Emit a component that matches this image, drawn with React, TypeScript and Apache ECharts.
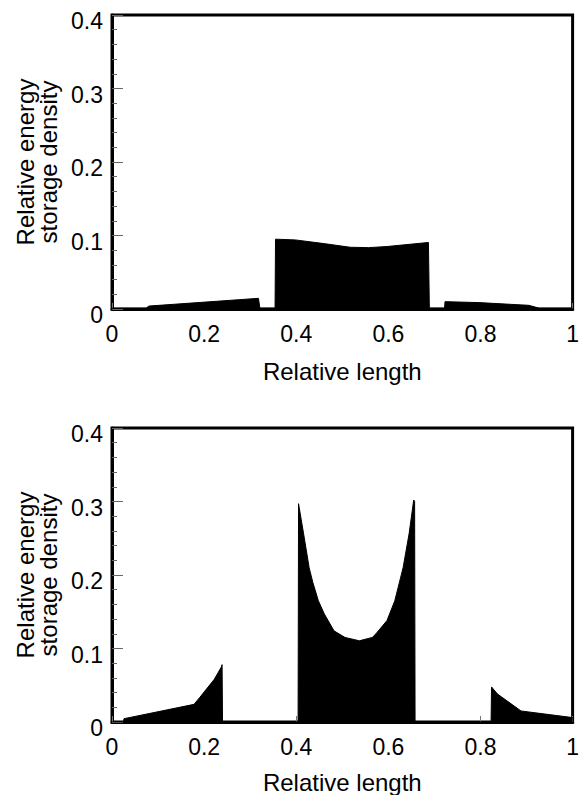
import React, { useEffect, useRef } from "react";
import * as echarts from "echarts";

// Tick labels
const xTicks = [0, 0.2, 0.4, 0.6, 0.8, 1];
const yTicks = [0, 0.1, 0.2, 0.3, 0.4];

// Upper panel: relative length vs relative energy storage density
const topX = [0, 0.074, 0.08, 0.318, 0.321, 0.354, 0.355, 0.398, 0.46, 0.517, 0.557, 0.597, 0.687, 0.689, 0.722, 0.723, 0.797, 0.905, 0.928, 1];
const topY = [0.001, 0.001, 0.004, 0.0145, 0.001, 0.001, 0.095, 0.094, 0.089, 0.084, 0.0835, 0.085, 0.0905, 0.001, 0.001, 0.010, 0.0087, 0.005, 0.001, 0.001];

// Lower panel
const botX = [0, 0.025, 0.026, 0.178, 0.19, 0.222, 0.2375, 0.239, 0.24, 0.404, 0.405, 0.416, 0.428, 0.436, 0.448, 0.461, 0.482, 0.506, 0.537, 0.565, 0.573, 0.597, 0.614, 0.632, 0.645, 0.655, 0.657, 0.658, 0.823, 0.824, 0.837, 0.888, 1.0];
const botY = [0, 0, 0.0045, 0.024, 0.033, 0.058, 0.075, 0.078, 0, 0, 0.297, 0.256, 0.21, 0.19, 0.165, 0.147, 0.124, 0.115, 0.1105, 0.115, 0.12, 0.138, 0.165, 0.21, 0.256, 0.302, 0.3, 0, 0, 0.0477, 0.038, 0.015, 0.006];

const xName = "Relative length";
const yName = "Relative energy\nstorage density";

const FONT = "'Liberation Sans', Arial, Helvetica, sans-serif";

export default function App() {
  const ref = useRef<HTMLDivElement>(null);
  useEffect(() => {
    if (!ref.current) return;
    const chart = echarts.init(ref.current, undefined, { renderer: "svg" });
    const pair = (xs: number[], ys: number[]) => xs.map((x, i) => [x, ys[i]]);
    const xAxisFor = (gridIndex: number, gap: number) => ({
      type: "value",
      gridIndex,
      min: xTicks[0],
      max: xTicks[xTicks.length - 1],
      interval: 0.2,
      name: xName,
      nameLocation: "middle",
      nameGap: gap,
      nameTextStyle: { fontFamily: FONT, fontSize: 24, color: "#000" },
      axisLine: { show: true, lineStyle: { color: "#000", width: 3 } },
      axisTick: { show: true, inside: true, length: 6, lineStyle: { color: "#777", width: 1 } },
      axisLabel: { fontFamily: FONT, fontSize: 23, color: "#000", margin: 13 },
      splitLine: { show: false },
    });
    const yAxisFor = (gridIndex: number) => ({
      type: "value",
      gridIndex,
      min: yTicks[0],
      max: yTicks[yTicks.length - 1],
      interval: 0.1,
      name: yName,
      nameLocation: "middle",
      nameRotate: 90,
      nameGap: 52,
      nameTextStyle: { fontFamily: FONT, fontSize: 24, color: "#000", lineHeight: 23 },
      axisLine: { show: true, lineStyle: { color: "#000", width: 3 } },
      axisTick: { show: true, inside: true, length: 11, lineStyle: { color: "#666", width: 1 } },
      minorTick: { show: true, splitNumber: 5, length: 5, lineStyle: { color: "#666", width: 1 } },
      axisLabel: { fontFamily: FONT, fontSize: 23, color: "#000", margin: 9, verticalAlign: "top", lineHeight: 12 },
      splitLine: { show: false },
    });
    const seriesFor = (idx: number, xs: number[], ys: number[]) => ({
      type: "line",
      xAxisIndex: idx,
      yAxisIndex: idx,
      data: pair(xs, ys),
      showSymbol: false,
      symbol: "none",
      lineStyle: { color: "#000", width: 1 },
      areaStyle: { color: "#000", opacity: 1 },
      z: 1,
    });
    chart.setOption({
      animation: false,
      backgroundColor: "#fff",
      grid: [
        { left: 112, top: 15, width: 466, height: 294, show: true, borderColor: "#000", borderWidth: 3, backgroundColor: "transparent" },
        { left: 112, top: 428, width: 466, height: 294, show: true, borderColor: "#000", borderWidth: 3, backgroundColor: "transparent" },
      ],
      xAxis: [xAxisFor(0, 50), xAxisFor(1, 48)],
      yAxis: [yAxisFor(0), yAxisFor(1)],
      series: [seriesFor(0, topX, topY), seriesFor(1, botX, botY)],
    });
    return () => chart.dispose();
  }, []);
  return (
    <div
      ref={ref}
      style={{ position: "absolute", left: 0, top: 0, width: 582, height: 795, background: "#fff" }}
    />
  );
}
